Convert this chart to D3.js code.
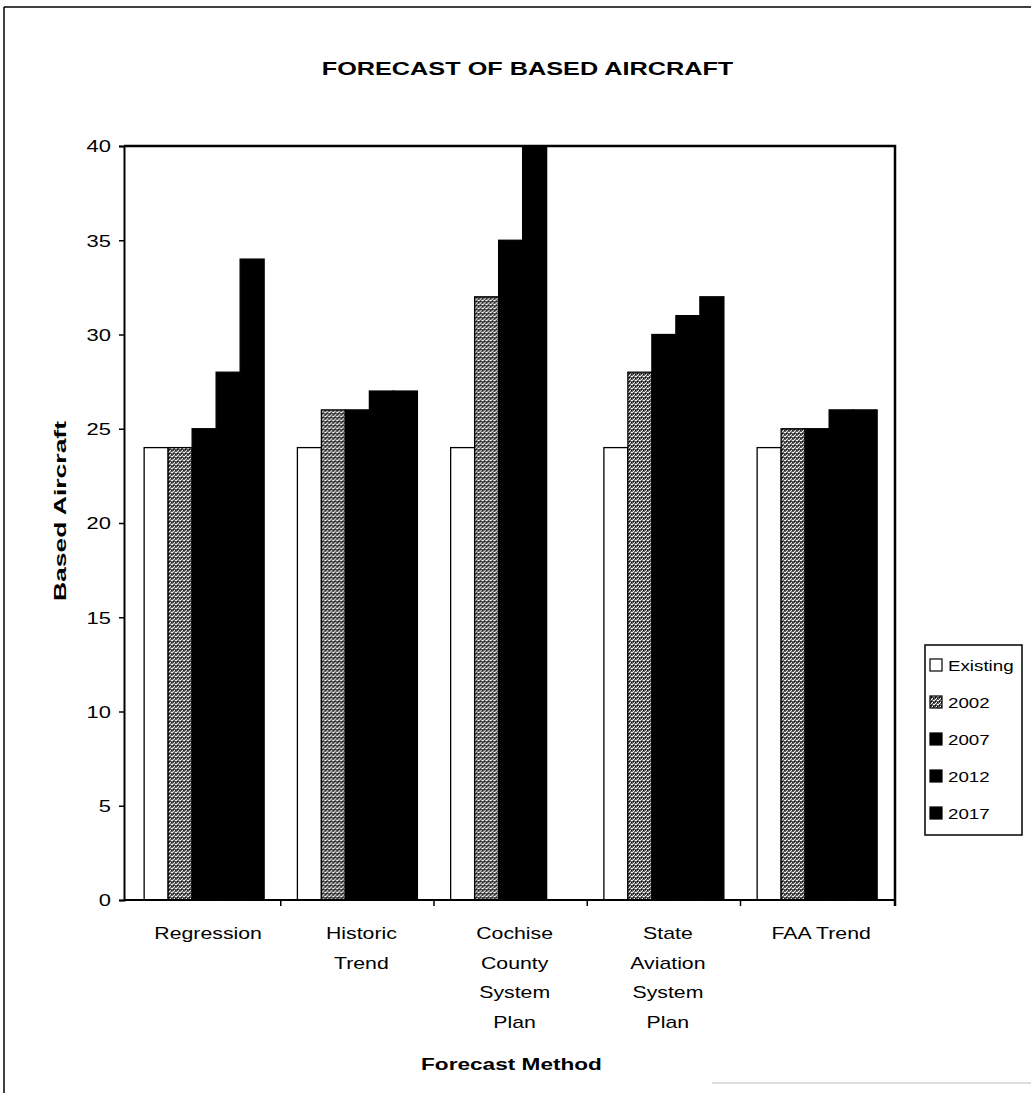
<!DOCTYPE html>
<html lang="en">
<head>
    <meta charset="utf-8">
    <title>Forecast of based aircraft</title>
    <script src="https://cdn.jsdelivr.net/npm/d3@7"></script>
    <style>
        body { margin: 0; background: #fff; }
        text { font-family: "Liberation Sans", Arial, sans-serif; fill: #000; }
        .title, .axis-title { font-weight: bold; }
    </style>
</head>
<body>
<script>
    // DATA
    const categories = ["Regression", "Historic Trend", "Cochise County System Plan",
                        "State Aviation System Plan", "FAA Trend"];
    const categoryLines = [["Regression"], ["Historic", "Trend"], ["Cochise", "County", "System", "Plan"],
                           ["State", "Aviation", "System", "Plan"], ["FAA Trend"]];
    const seriesNames = ["Existing", "2002", "2007", "2012", "2017"];
    const existing = [24, 24, 24, 24, 24];
    const f2002 = [24, 26, 32, 28, 25];
    const f2007 = [25, 26, 35, 30, 25];
    const f2012 = [28, 27, 40, 31, 26];
    const f2017 = [34, 27, null, 32, 26];
    const yTicks = [0, 5, 10, 15, 20, 25, 30, 35, 40];

    const seriesValues = [existing, f2002, f2007, f2012, f2017];

    const dim = {
        width: 1031,
        height: 1093,
        margin: {top: 146, right: 136, bottom: 193, left: 124}
    };
    const sx = 1.33; // the scan is stretched horizontally

    const svg = d3.select("body").append("svg")
                  .attr("width", dim.width)
                  .attr("height", dim.height);

    // speckled grey used for the 2002 series
    const defs = svg.append("defs");
    const pat = defs.append("pattern")
                    .attr("id", "stipple")
                    .attr("patternUnits", "userSpaceOnUse")
                    .attr("width", 4).attr("height", 4);
    pat.append("rect").attr("width", 4).attr("height", 4).attr("fill", "#5c5c5c");
    [[0, 0], [2, 2], [3, 0], [1, 3]].forEach(([px, py]) =>
        pat.append("rect").attr("x", px).attr("y", py).attr("width", 1).attr("height", 1).attr("fill", "#fff"));
    pat.append("rect").attr("x", 1).attr("y", 1).attr("width", 1).attr("height", 1).attr("fill", "#000");
    pat.append("rect").attr("x", 3).attr("y", 2).attr("width", 1).attr("height", 1).attr("fill", "#000");

    const fills = ["#fff", "url(#stipple)", "#000", "#000", "#000"];

    // page frame (scan border)
    svg.append("line").attr("x1", 4).attr("x2", 4).attr("y1", 7).attr("y2", dim.height)
       .attr("stroke", "#000").attr("stroke-width", 1.5);
    svg.append("line").attr("x1", 4).attr("x2", dim.width).attr("y1", 7).attr("y2", 7)
       .attr("stroke", "#000").attr("stroke-width", 1.5);
    svg.append("line").attr("x1", 712).attr("x2", dim.width).attr("y1", 1083).attr("y2", 1083)
       .attr("stroke", "#ddd").attr("stroke-width", 2);

    const scale = {
        x: d3.scaleBand()
             .domain(categories)
             .range([dim.margin.left, dim.width - dim.margin.right])
             .paddingInner(0.217)
             .paddingOuter(0.124)
             .align(0.53),
        y: d3.scaleLinear()
             .domain([0, 40])
             .range([dim.height - dim.margin.bottom, dim.margin.top])
    };
    scale.s = d3.scaleBand().domain(seriesNames).range([0, scale.x.bandwidth()]);

    const x0 = dim.margin.left, x1 = dim.width - dim.margin.right;
    const y0 = scale.y(0), y1 = scale.y(40);

    // title
    svg.append("text").attr("class", "title")
       .attr("transform", `translate(${(x0 + x1) / 2 + 18}, 75) scale(${sx},1)`)
       .attr("text-anchor", "middle")
       .style("font-size", "19px")
       .text("FORECAST OF BASED AIRCRAFT");

    // bars
    const rows = categories.map((c, i) => ({
        category: c,
        values: seriesNames.map((s, j) => ({series: s, index: j, value: seriesValues[j][i]}))
    }));

    svg.append("clipPath").attr("id", "plot-clip")
       .append("rect").attr("x", x0).attr("y", y1).attr("width", x1 - x0).attr("height", y0 - y1);

    svg.append("g")
       .attr("clip-path", "url(#plot-clip)")
       .selectAll("g")
       .data(rows)
       .join("g")
       .attr("transform", d => `translate(${scale.x(d.category)},0)`)
       .selectAll("rect")
       .data(d => d.values.filter(v => v.value != null))
       .join("rect")
       .attr("x", d => scale.s(d.series))
       .attr("y", d => scale.y(d.value))
       .attr("width", scale.s.bandwidth())
       .attr("height", d => y0 - scale.y(d.value))
       .attr("fill", d => fills[d.index])
       .attr("stroke", "#000")
       .attr("stroke-width", 1.3);

    // plot frame: top and right edges
    svg.append("path")
       .attr("d", `M${x0},${y1}H${x1}V${y0 + 6}`)
       .attr("fill", "none").attr("stroke", "#000").attr("stroke-width", 2.5);

    // y axis
    const yAxis = svg.append("g")
       .attr("transform", `translate(${x0},0)`)
       .call(d3.axisLeft(scale.y).tickValues(yTicks).tickSize(5).tickPadding(0));
    yAxis.select(".domain").attr("stroke-width", 2);
    yAxis.selectAll(".tick line").attr("stroke-width", 1.5);
    yAxis.selectAll(".tick text")
         .attr("x", null).attr("dy", "0.35em")
         .attr("transform", `translate(-13,0) scale(${sx},1)`)
         .style("font-size", "16.5px")
         .style("font-family", "'Liberation Sans', Arial, sans-serif");

    // x axis baseline with category boundary ticks
    const xAxis = svg.append("g");
    xAxis.append("line").attr("x1", x0).attr("x2", x1).attr("y1", y0).attr("y2", y0)
         .attr("stroke", "#000").attr("stroke-width", 2);
    xAxis.selectAll("line.tick")
         .data(categories.slice(1))
         .join("line").attr("class", "tick")
         .attr("x1", d => scale.x(d) - scale.x.step() * scale.x.paddingInner() / 2)
         .attr("x2", d => scale.x(d) - scale.x.step() * scale.x.paddingInner() / 2)
         .attr("y1", y0).attr("y2", y0 + 6)
         .attr("stroke", "#000").attr("stroke-width", 1.5);

    // category labels
    svg.append("g")
       .selectAll("text")
       .data(categories)
       .join("text")
       .attr("transform", d => `translate(${scale.x(d) + scale.x.bandwidth() / 2 + 4}, ${y0 + 39}) scale(${sx},1)`)
       .attr("text-anchor", "middle")
       .style("font-size", "16px")
       .selectAll("tspan")
       .data((d, i) => categoryLines[i])
       .join("tspan")
       .attr("x", 0)
       .attr("y", (d, i) => i * 29.7)
       .text(d => d);

    // axis titles
    svg.append("text").attr("class", "axis-title")
       .attr("transform", `translate(${(x0 + x1) / 2 + 2}, 1070) scale(${sx},1)`)
       .attr("text-anchor", "middle")
       .style("font-size", "17px")
       .text("Forecast Method");

    svg.append("text").attr("class", "axis-title")
       .attr("transform", `translate(66, ${(y0 + y1) / 2 - 12}) rotate(-90)`)
       .attr("text-anchor", "middle")
       .attr("textLength", 180)
       .attr("lengthAdjust", "spacingAndGlyphs")
       .style("font-size", "17px")
       .text("Based Aircraft");

    // legend
    const legend = svg.append("g").attr("transform", "translate(925,645)");
    legend.append("rect")
          .attr("width", 97).attr("height", 190)
          .attr("fill", "#fff").attr("stroke", "#000").attr("stroke-width", 1.5);
    const item = legend.selectAll("g.item")
          .data(seriesNames)
          .join("g").attr("class", "item")
          .attr("transform", (d, i) => `translate(5, ${26 + i * 37})`);
    item.append("rect")
        .attr("x", 0).attr("y", -12).attr("width", 12).attr("height", 12)
        .attr("fill", (d, i) => fills[i])
        .attr("stroke", "#000").attr("stroke-width", 1.2);
    item.append("text")
        .attr("transform", `translate(18,0) scale(1.25,1)`)
        .style("font-size", "15px")
        .text(d => d);
</script>
</body>
</html>
